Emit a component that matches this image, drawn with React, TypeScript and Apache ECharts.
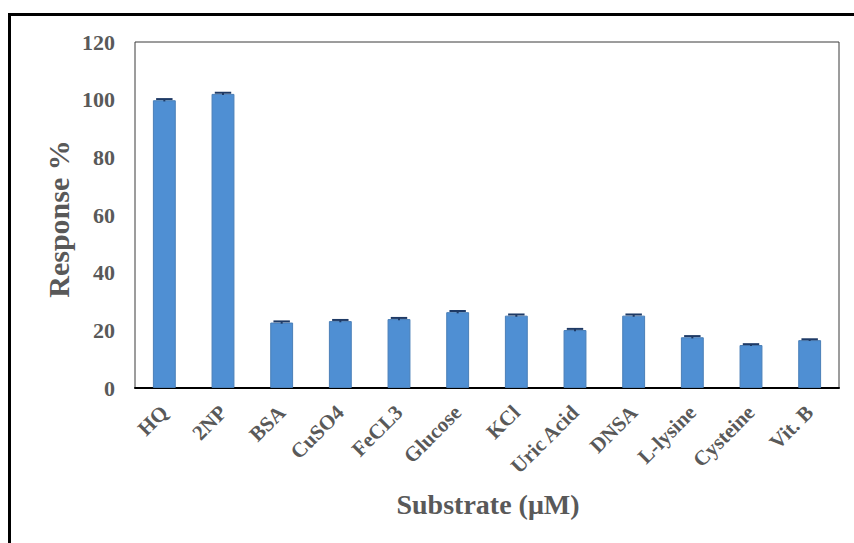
import React, { useEffect, useRef } from "react";
import * as echarts from "echarts";

const substrates = [
  "HQ", "2NP", "BSA", "CuSO4", "FeCL3", "Glucose",
  "KCl", "Uric Acid", "DNSA", "L-lysine", "Cysteine", "Vit. B",
];
const responsePct = [99.8, 102, 22.7, 23.2, 23.9, 26.3, 25.1, 20.1, 25.1, 17.6, 14.9, 16.6];
const responseErr = [0.4, 0.4, 0.4, 0.4, 0.4, 0.4, 0.4, 0.4, 0.4, 0.4, 0.3, 0.3];
const yTicks = { min: 0, max: 120, step: 20 };

const FONT = "'Liberation Serif', 'Times New Roman', serif";
const TEXT = "#595959";

export default function App() {
  const ref = useRef<HTMLDivElement>(null);

  useEffect(() => {
    if (!ref.current) return;
    const chart = echarts.init(ref.current, null, { renderer: "svg" });

    const errData = responsePct.map((v, i) => [i, v, responseErr[i]]);

    chart.setOption({
      animation: false,
      backgroundColor: "#ffffff",
      graphic: [
        {
          type: "rect",
          shape: { x: 9.5, y: 14.5, width: 900, height: 600 },
          style: { fill: "none", stroke: "#000", lineWidth: 3 },
          silent: true,
        },
        {
          type: "text",
          x: 58,
          y: 219,
          rotation: Math.PI / 2,
          style: {
            text: "Response %",
            font: `bold 30px ${FONT}`,
            fill: TEXT,
            align: "center",
            verticalAlign: "middle",
          },
        },
        {
          type: "text",
          x: 488,
          y: 504,
          style: {
            text: "Substrate (μM)",
            font: `bold 28px ${FONT}`,
            fill: TEXT,
            align: "center",
            verticalAlign: "middle",
          },
        },
      ],
      grid: {
        left: 135,
        right: 15,
        top: 42,
        bottom: 155,
        show: true,
        borderColor: "#3a3a3a",
        borderWidth: 1,
        backgroundColor: "transparent",
      },
      xAxis: {
        type: "category",
        data: substrates,
        axisLine: { show: true, lineStyle: { color: "#000", width: 2 } },
        axisTick: { show: false },
        axisLabel: {
          interval: 0,
          rotate: 45,
          margin: 21,
          fontFamily: FONT,
          fontWeight: "bold",
          fontSize: 21,
          color: TEXT,
        },
      },
      yAxis: {
        type: "value",
        min: yTicks.min,
        max: yTicks.max,
        interval: yTicks.step,
        splitLine: { show: false },
        axisLine: { show: false },
        axisTick: { show: false },
        axisLabel: {
          margin: 20,
          fontFamily: FONT,
          fontWeight: "bold",
          fontSize: 22,
          color: TEXT,
        },
      },
      series: [
        {
          type: "bar",
          data: responsePct,
          barWidth: "39%",
          itemStyle: { color: "#4F8FD3", borderColor: "#4A7FB8", borderWidth: 1 },
        },
        {
          type: "custom",
          data: errData,
          z: 10,
          renderItem: (params: any, api: any) => {
            const x = api.value(0);
            const v = api.value(1);
            const e = api.value(2);
            const hi = api.coord([x, v + e]);
            const lo = api.coord([x, v - e]);
            const half = api.size([1, 0])[0] * 0.14;
            const style = { stroke: "#1E3A66", lineWidth: 2 };
            return {
              type: "group",
              children: [
                { type: "line", shape: { x1: hi[0], y1: hi[1], x2: lo[0], y2: lo[1] }, style },
                { type: "line", shape: { x1: hi[0] - half, y1: hi[1], x2: hi[0] + half, y2: hi[1] }, style },
              ],
            };
          },
        },
      ],
    });

    return () => chart.dispose();
  }, []);

  return (
    <div
      ref={ref}
      style={{ position: "fixed", left: 0, top: 0, width: 854, height: 543 }}
    />
  );
}
